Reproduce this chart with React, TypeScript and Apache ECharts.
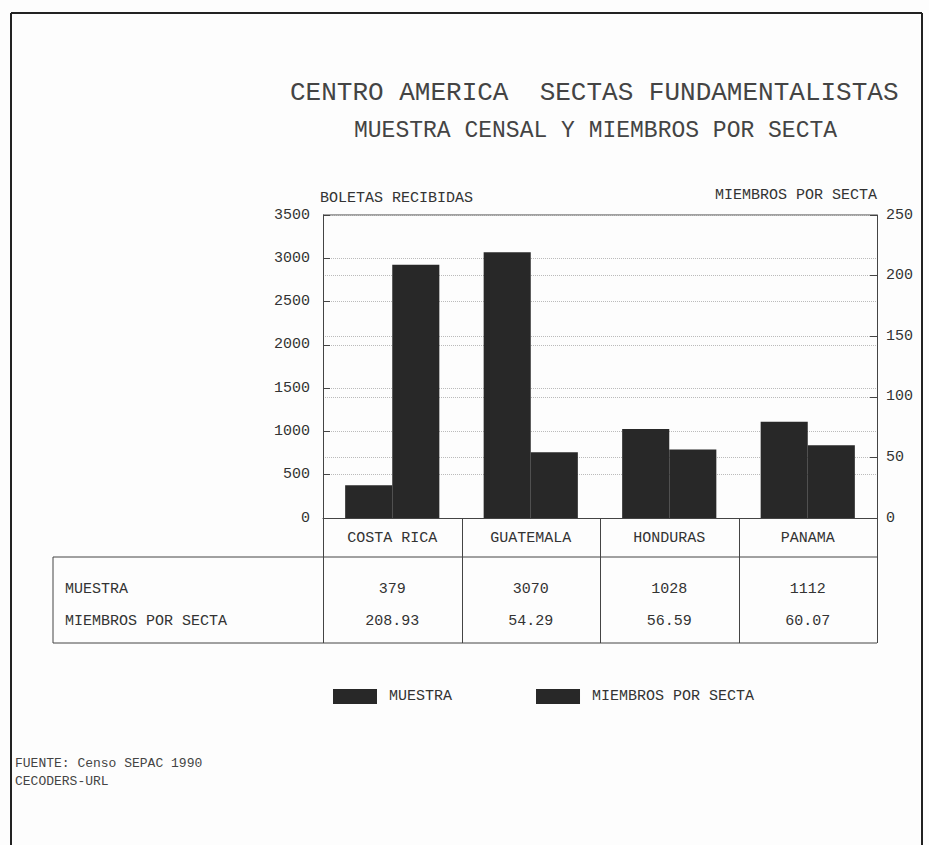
import React, { useEffect, useRef } from "react";
import * as echarts from "echarts";

const categories = ["COSTA RICA", "GUATEMALA", "HONDURAS", "PANAMA"];
const muestra = [379, 3070, 1028, 1112];
const miembros = [208.93, 54.29, 56.59, 60.07];
const leftTicks = { min: 0, max: 3500, interval: 500 };
const rightTicks = { min: 0, max: 250, interval: 50 };
const rowLabels = ["MUESTRA", "MIEMBROS POR SECTA"];
const titleText = "CENTRO AMERICA  SECTAS FUNDAMENTALISTAS";
const subtitleText = "MUESTRA CENSAL Y MIEMBROS POR SECTA";
const leftAxisName = "BOLETAS RECIBIDAS";
const rightAxisName = "MIEMBROS POR SECTA";
const footerLines = ["FUENTE: Censo SEPAC 1990", "CECODERS-URL"];

const FONT = "'Liberation Mono', 'DejaVu Sans Mono', monospace";

export default function App() {
  const ref = useRef<HTMLDivElement>(null);
  useEffect(() => {
    if (!ref.current) return;
    const chart = echarts.init(ref.current, null, { renderer: "svg" });
    const W = 929;
    const H = 845;
    const gL = 323;
    const gR = 877;
    const gT = 215;
    const gB = 518;
    const catW = (gR - gL) / categories.length;
    const rowTop = 557;
    const tableBottom = 643;
    const tableLeft = 53;
    const lineColor = "#444";

    const graphics: any[] = [];
    graphics.push({ type: "line", shape: { x1: 11, y1: 13, x2: 922, y2: 13 }, style: { stroke: "#222", lineWidth: 2 } });
    graphics.push({ type: "line", shape: { x1: 11, y1: 13, x2: 11, y2: H }, style: { stroke: "#222", lineWidth: 2 } });
    graphics.push({ type: "line", shape: { x1: 922, y1: 13, x2: 922, y2: H }, style: { stroke: "#222", lineWidth: 2 } });
    graphics.push({ type: "line", shape: { x1: gL, y1: gT, x2: gR, y2: gT }, style: { stroke: lineColor, lineWidth: 1 } });
    for (let i = 0; i <= categories.length; i++) {
      const x = Math.round(gL + i * catW) + 0.5;
      graphics.push({ type: "line", shape: { x1: x, y1: gB, x2: x, y2: tableBottom }, style: { stroke: lineColor, lineWidth: 1 } });
    }
    graphics.push({ type: "line", shape: { x1: tableLeft, y1: rowTop, x2: tableLeft, y2: tableBottom }, style: { stroke: lineColor, lineWidth: 1 } });
    graphics.push({ type: "line", shape: { x1: tableLeft, y1: rowTop, x2: gR, y2: rowTop }, style: { stroke: lineColor, lineWidth: 1 } });
    graphics.push({ type: "line", shape: { x1: tableLeft, y1: tableBottom, x2: gR, y2: tableBottom }, style: { stroke: lineColor, lineWidth: 1 } });
    const rows = [muestra.map((v) => String(v)), miembros.map((v) => v.toFixed(2))];
    const rowY = [589, 621];
    rows.forEach((r, ri) => {
      graphics.push({
        type: "text", x: 65, y: rowY[ri],
        style: { text: rowLabels[ri], font: `15px ${FONT}`, fill: "#333", textVerticalAlign: "middle", textAlign: "left" },
      });
      r.forEach((t, ci) => {
        graphics.push({
          type: "text", x: gL + (ci + 0.5) * catW, y: rowY[ri],
          style: { text: t, font: `15px ${FONT}`, fill: "#333", textVerticalAlign: "middle", textAlign: "center" },
        });
      });
    });
    graphics.push({ type: "text", x: 290, y: 93, style: { text: titleText, font: `26px ${FONT}`, fill: "#444", textVerticalAlign: "middle", textAlign: "left" } });
    graphics.push({ type: "text", x: 354, y: 131, style: { text: subtitleText, font: `23px ${FONT}`, fill: "#444", textVerticalAlign: "middle", textAlign: "left" } });
    graphics.push({ type: "text", x: 320, y: 198, style: { text: leftAxisName, font: `15px ${FONT}`, fill: "#333", textVerticalAlign: "middle", textAlign: "left" } });
    graphics.push({ type: "text", x: gR, y: 195, style: { text: rightAxisName, font: `15px ${FONT}`, fill: "#333", textVerticalAlign: "middle", textAlign: "right" } });
    footerLines.forEach((t, i) => {
      graphics.push({ type: "text", x: 15, y: 763 + i * 18, style: { text: t, font: `13px ${FONT}`, fill: "#444", textVerticalAlign: "middle", textAlign: "left" } });
    });

    const splitStyle = { show: true, lineStyle: { color: "#bbb", type: "dotted" as const, width: 1 } };

    chart.setOption({
      animation: false,
      backgroundColor: "#fdfdfd",
      textStyle: { fontFamily: FONT },
      grid: { left: gL, right: W - gR, top: gT, bottom: H - gB, containLabel: false },
      legend: {
        left: 328,
        top: 684,
        itemWidth: 44,
        itemHeight: 15,
        itemGap: 84,
        icon: "rect",
        textStyle: { fontFamily: FONT, fontSize: 15, color: "#333", padding: [0, 0, 0, 7] },
        data: ["MUESTRA", "MIEMBROS POR SECTA"],
      },
      xAxis: {
        type: "category",
        data: categories,
        axisLine: { lineStyle: { color: lineColor } },
        axisTick: { show: false },
        axisLabel: { fontFamily: FONT, fontSize: 15, color: "#333", margin: 13 },
      },
      yAxis: [
        {
          type: "value",
          min: leftTicks.min,
          max: leftTicks.max,
          interval: leftTicks.interval,
          axisLine: { show: true, lineStyle: { color: lineColor } },
          axisTick: { show: true, inside: true, length: 7, lineStyle: { color: lineColor } },
          axisLabel: { fontFamily: FONT, fontSize: 15, color: "#333", margin: 13, formatter: (v: number) => String(v) },
          splitLine: splitStyle,
        },
        {
          type: "value",
          min: rightTicks.min,
          max: rightTicks.max,
          interval: rightTicks.interval,
          position: "right",
          axisLine: { show: true, lineStyle: { color: lineColor } },
          axisTick: { show: true, inside: true, length: 7, lineStyle: { color: lineColor } },
          axisLabel: { fontFamily: FONT, fontSize: 15, color: "#333", margin: 9, formatter: (v: number) => String(v) },
          splitLine: splitStyle,
        },
      ],
      series: [
        {
          name: "MUESTRA",
          type: "bar",
          yAxisIndex: 0,
          data: muestra,
          barWidth: "34%",
          barGap: "0%",
          itemStyle: { color: "#282828" },
        },
        {
          name: "MIEMBROS POR SECTA",
          type: "bar",
          yAxisIndex: 1,
          data: miembros,
          barWidth: "34%",
          barGap: "0%",
          itemStyle: { color: "#282828" },
        },
      ],
      graphic: graphics,
    });
    return () => chart.dispose();
  }, []);
  return <div ref={ref} style={{ position: "absolute", left: 0, top: 0, width: 929, height: 845 }} />;
}
